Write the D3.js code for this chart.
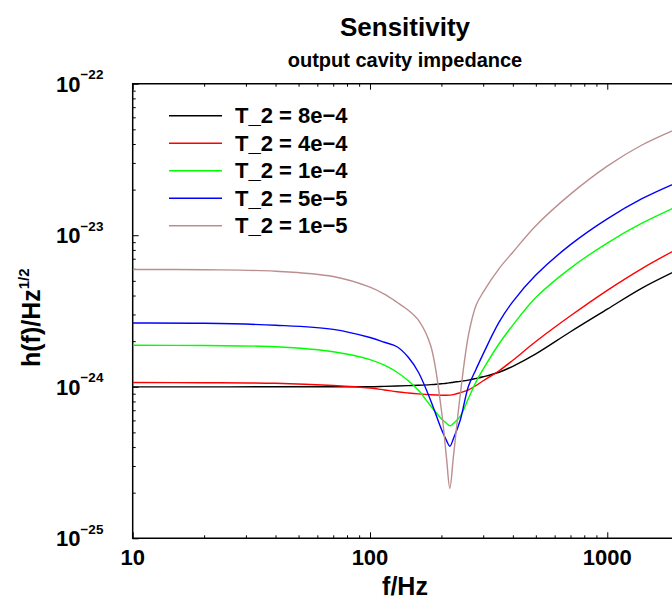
<!DOCTYPE html>
<html>
<head>
<meta charset="utf-8">
<script src="https://cdn.jsdelivr.net/npm/d3@7"></script>
<style>
	html, body { margin: 0; padding: 0; background: #fff; overflow: hidden; }
	text { font-family: "Liberation Sans", Arial, sans-serif; font-weight: bold; }
</style>
</head>
<body>
<div id="chart"></div>
<script>
// frequencies in Hz
const freqs = [10, 20, 40, 70, 100, 115, 130, 145, 160, 180, 200, 210, 217, 225, 240, 260, 280, 300, 350, 400, 500, 700, 1000, 1400, 2000];

// strain sensitivity h(f) in 1/sqrt(Hz)
const hT8e4 = [0.998e-24, 0.998e-24, 1.0e-24, 1.0e-24, 1.0e-24, 1.006e-24, 1.012e-24, 1.017e-24, 1.023e-24, 1.033e-24, 1.047e-24, 1.054e-24, 1.062e-24, 1.072e-24, 1.086e-24, 1.107e-24, 1.135e-24, 1.164e-24, 1.247e-24, 1.365e-24, 1.648e-24, 2.307e-24, 3.25e-24, 4.48e-24, 5.94e-24];
const hT4e4 = [1.066e-24, 1.064e-24, 1.054e-24, 1.02e-24, 0.982e-24, 0.953e-24, 0.927e-24, 0.91e-24, 0.897e-24, 0.885e-24, 0.879e-24, 0.879e-24, 0.881e-24, 0.888e-24, 0.913e-24, 0.955e-24, 1.019e-24, 1.096e-24, 1.276e-24, 1.496e-24, 1.989e-24, 2.94e-24, 4.33e-24, 6.03e-24, 8.22e-24];
const hT1e4 = [1.879e-24, 1.87e-24, 1.837e-24, 1.703e-24, 1.512e-24, 1.387e-24, 1.247e-24, 1.096e-24, 0.948e-24, 0.749e-24, 0.615e-24, 0.574e-24, 0.552e-24, 0.574e-24, 0.638e-24, 0.839e-24, 1.078e-24, 1.306e-24, 1.923e-24, 2.552e-24, 3.88e-24, 6.07e-24, 8.88e-24, 12.0e-24, 15.68e-24];
const hT5e5 = [2.637e-24, 2.625e-24, 2.547e-24, 2.39e-24, 2.113e-24, 1.967e-24, 1.837e-24, 1.567e-24, 1.247e-24, 0.815e-24, 0.524e-24, 0.443e-24, 0.405e-24, 0.457e-24, 0.601e-24, 1.008e-24, 1.306e-24, 1.649e-24, 2.667e-24, 3.65e-24, 5.46e-24, 8.67e-24, 12.83e-24, 17.42e-24, 22.53e-24];
const hT1e5 = [5.94e-24, 5.92e-24, 5.79e-24, 5.34e-24, 4.54e-24, 4.08e-24, 3.61e-24, 3.2e-24, 2.75e-24, 1.879e-24, 0.70e-24, 0.342e-24, 0.214e-24, 0.353e-24, 0.879e-24, 2.188e-24, 3.45e-24, 4.21e-24, 6.02e-24, 7.73e-24, 11.56e-24, 18.68e-24, 28.6e-24, 39.4e-24, 50.97e-24];

const seriesNames = ["T_2 = 8e\u22124", "T_2 = 4e\u22124", "T_2 = 1e\u22124", "T_2 = 5e\u22125", "T_2 = 1e\u22125"];
const seriesValues = [hT8e4, hT4e4, hT1e4, hT5e5, hT1e5];
const seriesColors = ["#000000", "#ff0000", "#00ff00", "#0000ff", "#bc8f8f"];

const xTickValues = [10, 100, 1000];
const yTickExponents = [-22, -23, -24, -25];

const xDomain = [10, 2000];
const yDomain = [1e-25, 1e-22];

render();

function render() {
	const width = 672;
	const height = 600;
	const plot = { left: 132.7, top: 83.7, right: 678.7, bottom: 538.3 };

	const svg = d3.select("#chart")
		.append("svg")
		.attr("width", width)
		.attr("height", height);

	const x = d3.scaleLog().domain(xDomain).range([plot.left, plot.right]);
	const y = d3.scaleLog().domain(yDomain).range([plot.bottom, plot.top]);

	// minor / major tick values
	const xMinor = x.ticks().filter((v) => xTickValues.indexOf(v) < 0);
	const yMajor = yTickExponents.map((e) => Math.pow(10, e));
	const yMinor = [];
	for (let e = -25; e < -22; e++) {
		for (let m = 2; m <= 9; m++) yMinor.push(m * Math.pow(10, e));
	}

	// ticks, pointing inward
	const tickGroups = [
		{ axis: d3.axisTop(x).tickValues(xTickValues).tickSize(6), t: `translate(0,${plot.bottom})` },
		{ axis: d3.axisTop(x).tickValues(xMinor).tickSize(3), t: `translate(0,${plot.bottom})` },
		{ axis: d3.axisBottom(x).tickValues(xTickValues).tickSize(6), t: `translate(0,${plot.top})` },
		{ axis: d3.axisBottom(x).tickValues(xMinor).tickSize(3), t: `translate(0,${plot.top})` },
		{ axis: d3.axisRight(y).tickValues(yMajor).tickSize(6), t: `translate(${plot.left},0)` },
		{ axis: d3.axisRight(y).tickValues(yMinor).tickSize(3), t: `translate(${plot.left},0)` },
	];
	tickGroups.forEach((g) => {
		const sel = svg.append("g")
			.attr("transform", g.t)
			.call(g.axis.tickFormat("").tickSizeOuter(0));
		sel.select(".domain").remove();
		sel.selectAll("line").attr("stroke", "#000").attr("stroke-width", 1);
	});

	// frame
	svg.append("path")
		.attr("d", `M${plot.right},${plot.top}H${plot.left}V${plot.bottom}H${plot.right}`)
		.attr("fill", "none")
		.attr("stroke", "#000")
		.attr("stroke-width", 1.5);

	// clip
	svg.append("clipPath")
		.attr("id", "plotClip")
		.append("rect")
		.attr("x", plot.left)
		.attr("y", plot.top)
		.attr("width", plot.right - plot.left)
		.attr("height", plot.bottom - plot.top);

	const line = d3.line()
		.x((d) => x(d[0]))
		.y((d) => y(d[1]))
		.curve(d3.curveCatmullRom.alpha(0.5));

	svg.append("g")
		.attr("clip-path", "url(#plotClip)")
		.selectAll("path")
		.data(seriesValues)
		.enter()
		.append("path")
		.attr("d", (vals) => line(freqs.map((f, i) => [f, vals[i]])))
		.attr("fill", "none")
		.attr("stroke", (d, i) => seriesColors[i])
		.attr("stroke-width", 1.4);

	// x tick labels
	svg.append("g")
		.selectAll("text")
		.data(xTickValues)
		.enter()
		.append("text")
		.attr("x", (d) => x(d))
		.attr("y", plot.bottom + 27)
		.attr("text-anchor", "middle")
		.style("font-size", "22px")
		.text((d) => d);

	// y tick labels 10^n
	const yLabels = svg.append("g")
		.selectAll("text")
		.data(yTickExponents)
		.enter()
		.append("text")
		.attr("x", 56)
		.attr("y", (d) => y(Math.pow(10, d)) + 8)
		.style("font-size", "22px");
	yLabels.append("tspan").text("10");
	yLabels.append("tspan")
		.attr("dy", -12.5)
		.style("font-size", "13.5px")
		.text((d) => "\u2212" + Math.abs(d));

	// titles
	svg.append("text")
		.attr("x", 405)
		.attr("y", 36)
		.attr("text-anchor", "middle")
		.style("font-size", "26px")
		.text("Sensitivity");
	svg.append("text")
		.attr("x", 405)
		.attr("y", 67)
		.attr("text-anchor", "middle")
		.style("font-size", "20px")
		.text("output cavity impedance");

	svg.append("text")
		.attr("x", 405)
		.attr("y", 595)
		.attr("text-anchor", "middle")
		.style("font-size", "25px")
		.text("f/Hz");

	const yTitle = svg.append("text")
		.attr("transform", "translate(40,367) rotate(-90)")
		.attr("x", 0)
		.attr("y", 0)
		.style("font-size", "25px");
	yTitle.append("tspan").text("h(f)/Hz");
	yTitle.append("tspan")
		.attr("dy", -11)
		.style("font-size", "15px")
		.text("1/2");

	// legend
	const legend = svg.append("g")
		.selectAll("g")
		.data(seriesNames)
		.enter()
		.append("g")
		.attr("transform", (d, i) => `translate(169,${115.7 + i * 27.5})`);
	legend.append("line")
		.attr("x1", 0)
		.attr("x2", 53)
		.attr("y1", 0)
		.attr("y2", 0)
		.attr("stroke", (d, i) => seriesColors[i])
		.attr("stroke-width", 1.4);
	legend.append("text")
		.attr("x", 66)
		.attr("y", 7.7)
		.style("font-size", "22px")
		.text((d) => d);
}
</script>
</body>
</html>
